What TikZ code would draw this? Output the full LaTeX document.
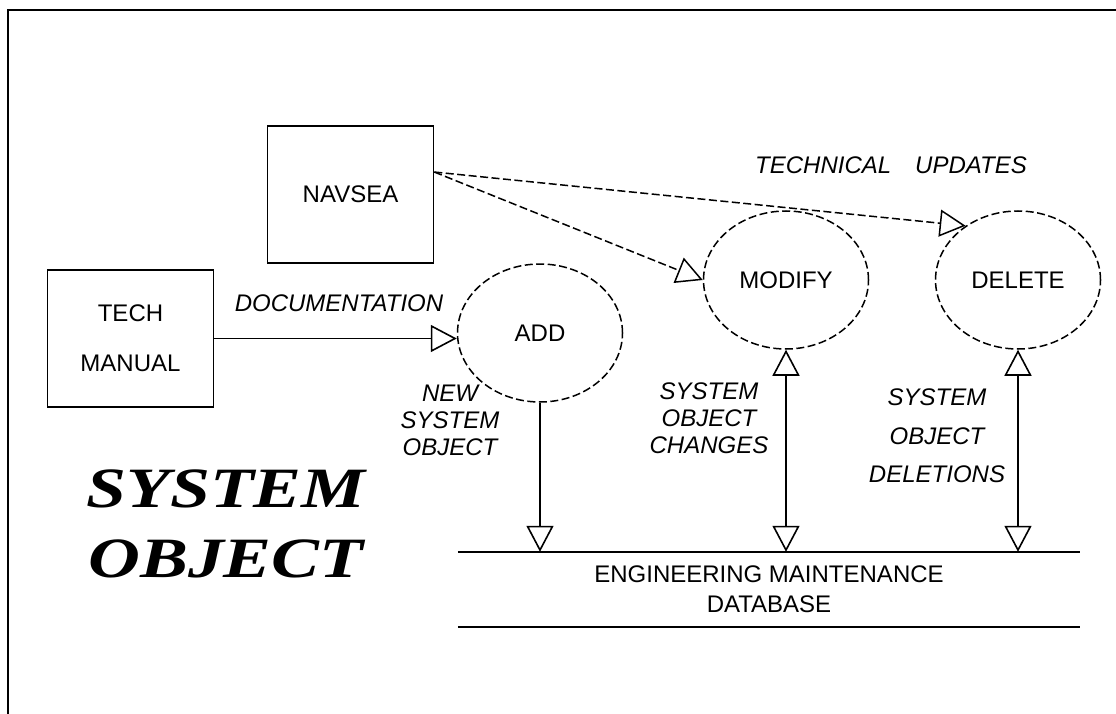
\documentclass[tikz,border=0pt]{standalone}
\usepackage{fontspec}
\setmainfont{Liberation Sans}
\newfontfamily\titlefont{Liberation Serif}
\usetikzlibrary{arrows.meta,shapes.geometric}

\begin{document}
\begin{tikzpicture}[x=1pt,y=-1pt]
	\tikzset{>={Triangle[open,length=26pt,width=27pt]}}
	\tikzset{
		entity/.style={draw,line width=1.6pt,minimum width=166pt,minimum height=137pt,align=center,font=\fontsize{24}{29}\selectfont},
		process/.style={draw,ellipse,line width=1.5pt,dash pattern=on 8pt off 3.5pt,minimum width=165pt,minimum height=138pt,font=\fontsize{24}{29}\selectfont},
		flowlabel/.style={align=center,font=\fontsize{24}{27}\selectfont\itshape},
		flow/.style={->,line width=1.6pt},
		update/.style={->,line width=1.5pt,dash pattern=on 8pt off 3.5pt}
	}
	\useasboundingbox (0,0) rectangle (1116,714);
	\draw[line width=1.5pt] (8,714) -- (8,10) -- (1116,10);

	\node[entity] (navsea) at (350.5,194.5) {NAVSEA};
	\node[entity] (tech) at (130.5,338.5) {TECH\\[21pt]MANUAL};

	\node[process] (add) at (540,333) {ADD};
	\node[process] (modify) at (786,280) {MODIFY};
	\node[process] (delete) at (1018,280) {DELETE};

	\node[inner sep=0pt,minimum width=622pt,minimum height=75pt,align=center,font=\fontsize{24}{30}\selectfont] (db) at (769,589.5) {ENGINEERING MAINTENANCE\\DATABASE};
	\draw[line width=1.5pt] (db.north west) -- (db.north east);
	\draw[line width=1.5pt] (db.south west) -- (db.south east);

	\draw[flow] (tech.east) -- (tech.east -| add.west);
	\draw[update] (navsea.15) -- (modify.west);
	\draw[update] (navsea.15) -- (delete.134);
	\draw[flow] (add.south) -- (add.south |- db.north);
	\draw[flow,<->] (modify.south) -- (modify.south |- db.north);
	\draw[flow,<->] (delete.south) -- (delete.south |- db.north);

	\node[flowlabel] (doclabel) at (339,303) {DOCUMENTATION};
	\node[flowlabel] (updlabel) at (891,165) {TECHNICAL\quad UPDATES};
	\node[flowlabel] (newlabel) at (450,420) {NEW\\SYSTEM\\OBJECT};
	\node[flowlabel] (chglabel) at (709,418) {SYSTEM\\OBJECT\\CHANGES};
	\node[flowlabel,font=\fontsize{24}{38.5}\selectfont\itshape] (dellabel) at (937,436) {SYSTEM\\OBJECT\\DELETIONS};

	\node[align=center,font=\titlefont\bfseries\itshape\fontsize{57}{70}\selectfont] (title) at (226,524) {\scalebox{1.26}[1]{SYSTEM}\\\scalebox{1.26}[1]{OBJECT}};
\end{tikzpicture}
\end{document}
